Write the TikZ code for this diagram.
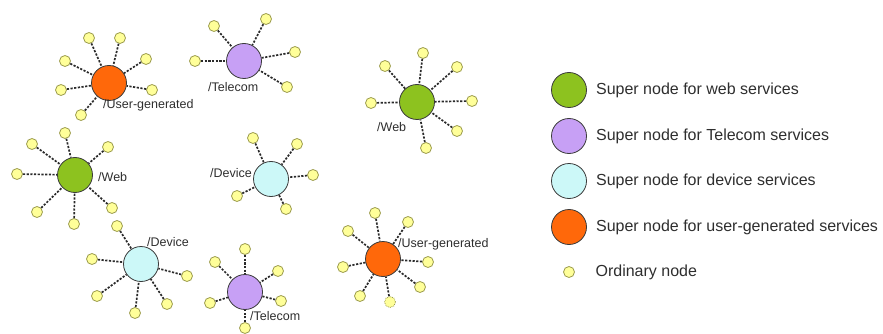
\documentclass[tikz,border=0pt]{standalone}
\usepackage{fontspec}
\setmainfont{Liberation Sans}
\usetikzlibrary{positioning}
\definecolor{SuperWeb}{HTML}{8DC21F}
\definecolor{SuperTelecom}{HTML}{C7A0F5}
\definecolor{SuperDevice}{HTML}{CCF8F8}
\definecolor{SuperUser}{HTML}{FF680A}
\definecolor{OrdinaryFill}{HTML}{FFFF99}
\definecolor{OrdinaryEdge}{HTML}{9C9C4E}
\definecolor{EdgeGray}{HTML}{3A3A3A}
\definecolor{LinkGray}{HTML}{2A2A2A}
\definecolor{TextGray}{HTML}{2E2E2E}
\tikzset{
    % Super node styles
    super/.style={
        circle,
        draw=EdgeGray,
        line width=0.8pt,
        minimum size=35pt,
        inner sep=0pt
    },
    super web/.style={super, fill=SuperWeb},
    super telecom/.style={super, fill=SuperTelecom},
    super device/.style={super, fill=SuperDevice},
    super user/.style={super, fill=SuperUser},
    % Ordinary node
    ordinary/.style={
        circle,
        draw=OrdinaryEdge,
        fill=OrdinaryFill,
        line width=0.8pt,
        minimum size=11pt,
        inner sep=0pt
    },
    ordinary dotted/.style={
        ordinary,
        densely dotted
    },
    link/.style={
        draw=LinkGray,
        line width=1.7pt,
        dash pattern=on 2.2pt off 1.5pt
    },
    cluster label/.style={
        inner sep=0pt,
        text=TextGray,
        font=\fontsize{12.5}{14}\selectfont
    },
    legend text/.style={
        inner sep=0pt,
        text=TextGray,
        font=\fontsize{16}{19}\selectfont
    }
}

\begin{document}
\begin{tikzpicture}[x=1pt, y=-1pt]
        \useasboundingbox (0,0) rectangle (883,334);

        % Super nodes
        \node[super user] (ugA) at (109,83) {};
        \node[super telecom] (telA) at (244,61) {};
        \node[super web] (webA) at (417,102) {};
        \node[super web] (webB) at (75,175) {};
        \node[super device] (devA) at (271,179) {};
        \node[super device] (devB) at (141,264) {};
        \node[super telecom] (telB) at (245,292) {};
        \node[super user] (ugB) at (383,259) {};

        % Ordinary nodes around each super node
        \foreach \i/\x/\y in {1/89/38, 2/120/38, 3/146/59, 4/152/90, 5/65/61, 6/61/90, 7/81/115} {
            \node[ordinary] (ugA-\i) at (\x,\y) {};
            \draw[link] (ugA-\i) -- (ugA);
        }
        \foreach \i/\x/\y in {1/214/26, 2/266/19, 3/295/52, 4/195/61, 5/287/87} {
            \node[ordinary] (telA-\i) at (\x,\y) {};
            \draw[link] (telA-\i) -- (telA);
        }
        \foreach \i/\x/\y in {1/423/53, 2/385/66, 3/457/67, 4/371/103, 5/472/101, 6/457/131, 7/426/148} {
            \node[ordinary] (webA-\i) at (\x,\y) {};
            \draw[link] (webA-\i) -- (webA);
        }
        \foreach \i/\x/\y in {1/65/133, 2/32/144, 3/108/147, 4/17/174, 5/112/208, 6/37/212, 7/74/224} {
            \node[ordinary] (webB-\i) at (\x,\y) {};
            \draw[link] (webB-\i) -- (webB);
        }
        \foreach \i/\x/\y in {1/253/138, 2/297/144, 3/313/175, 4/237/196, 5/286/209} {
            \node[ordinary] (devA-\i) at (\x,\y) {};
            \draw[link] (devA-\i) -- (devA);
        }
        \foreach \i/\x/\y in {1/117/226, 2/92/259, 3/187/276, 4/97/296, 5/167/304, 6/135/313} {
            \node[ordinary] (devB-\i) at (\x,\y) {};
            \draw[link] (devB-\i) -- (devB);
        }
        \foreach \i/\x/\y in {1/245/249, 2/215/262, 3/278/271, 4/281/301, 5/210/303, 6/245/328} {
            \node[ordinary] (telB-\i) at (\x,\y) {};
            \draw[link] (telB-\i) -- (telB);
        }
        \foreach \i/\x/\y in {1/375/213, 2/348/231, 3/408/222, 4/343/267, 5/428/262, 6/360/296, 7/420/287} {
            \node[ordinary] (ugB-\i) at (\x,\y) {};
            \draw[link] (ugB-\i) -- (ugB);
        }
        \node[ordinary dotted] (ugB-8) at (390,302) {};
        \draw[link] (ugB-8) -- (ugB);

        % Labels next to the super nodes
        \node[cluster label, anchor=west] (ugA-label) at (103,105) {/User-generated};
        \node[cluster label, anchor=west] (telA-label) at (208,87) {/Telecom};
        \node[cluster label, anchor=west] (webA-label) at (377,127) {/Web};
        \node[cluster label, anchor=west] (webB-label) at (98,177) {/Web};
        \node[cluster label, anchor=east] (devA-label) at (252,173) {/Device};
        \node[cluster label, anchor=west] (devB-label) at (147,242) {/Device};
        \node[cluster label, anchor=west] (telB-label) at (250,316) {/Telecom};
        \node[cluster label, anchor=west] (ugB-label) at (398,244) {/User-generated};

        % Legend
        \node[super web] (lg-web) at (569,90) {};
        \node[super telecom] (lg-telecom) at (569,136) {};
        \node[super device] (lg-device) at (569,181) {};
        \node[super user] (lg-user) at (569,227) {};
        \node[ordinary] (lg-ordinary) at (569,272) {};
        \node[legend text, right=9pt of lg-web] {Super node for web services};
        \node[legend text, right=9pt of lg-telecom] {Super node for Telecom services};
        \node[legend text, right=9pt of lg-device] {Super node for device services};
        \node[legend text, right=9pt of lg-user] {Super node for user-generated services};
        \node[legend text, right=20.5pt of lg-ordinary] {Ordinary node};
    \end{tikzpicture}
\end{document}
